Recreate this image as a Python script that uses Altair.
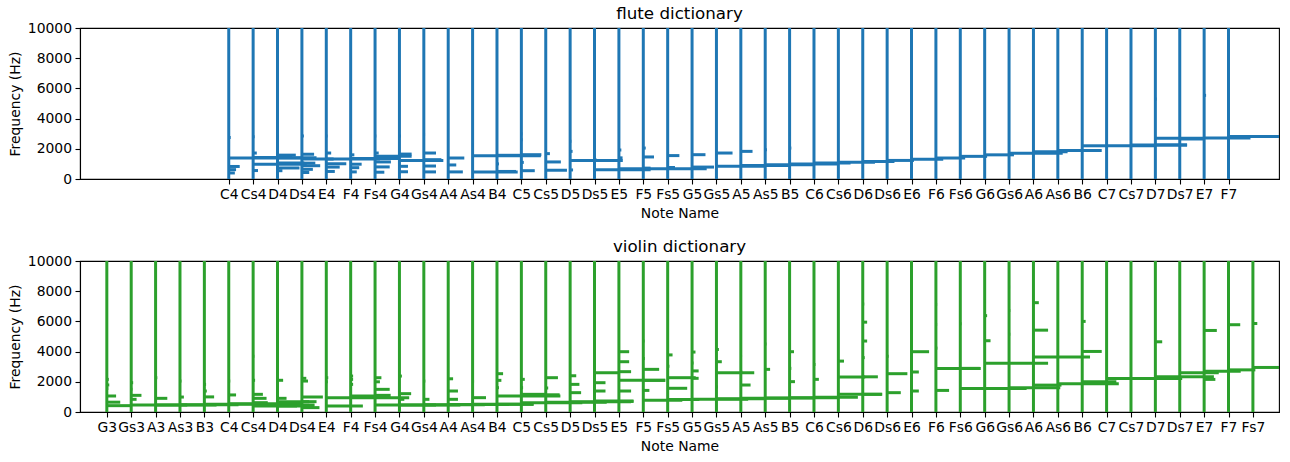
import altair as alt
import pandas as pd

# chromatic note axis (positions shared by both panels, G3 = 0)
violin_notes = ["G3", "Gs3", "A3", "As3", "B3",
                "C4", "Cs4", "D4", "Ds4", "E4", "F4", "Fs4", "G4", "Gs4", "A4", "As4", "B4",
                "C5", "Cs5", "D5", "Ds5", "E5", "F5", "Fs5", "G5", "Gs5", "A5", "As5", "B5",
                "C6", "Cs6", "D6", "Ds6", "E6", "F6", "Fs6", "G6", "Gs6", "A6", "As6", "B6",
                "C7", "Cs7", "D7", "Ds7", "E7", "F7", "Fs7"]
flute_notes = violin_notes[5:47]  # C4 .. F7

# flute spectral peaks: note, frequency (Hz), magnitude (in note widths)
flute_peak_notes = (["C4"] * 5 + ["Cs4"] * 5 + ["D4"] * 6 + ["Ds4"] * 7 + ["E4"] * 6 + ["F4"] * 6
                    + ["Fs4"] * 6 + ["G4"] * 6 + ["Gs4"] * 5 + ["A4"] * 3 + ["As4"] * 3 + ["B4"] * 3
                    + ["C5"] * 5 + ["Cs5"] * 3 + ["D5"] * 4 + ["Ds5"] * 2 + ["E5"] * 3 + ["F5"] * 3
                    + ["Fs5"] * 2 + ["G5"] * 2 + ["Gs5"] * 2 + ["A5"] * 2 + ["As5"] * 2 + ["B5"] * 3
                    + ["C6", "Cs6", "D6", "Ds6", "E6", "F6", "Fs6", "G6", "Gs6", "A6", "As6", "B6",
                       "C7", "Cs7"] + ["D7"] * 3 + ["Ds7"] + ["E7"] * 2 + ["F7"])
flute_peak_freqs = [2750, 1390, 830, 620, 400,
                    2800, 1720, 1420, 970, 560,
                    2800, 1580, 1400, 1060, 730, 550,
                    2850, 1640, 1320, 1050, 880, 640, 430,
                    2850, 1720, 1330, 1010, 790, 500,
                    2850, 1600, 1350, 980, 750, 470,
                    2850, 1720, 1500, 1130, 800, 450,
                    2850, 1650, 1560, 1230, 840, 480,
                    2950, 1720, 1280, 860, 470,
                    1390, 930, 470,
                    2270, 1540, 470,
                    1570, 1000, 500,
                    3000, 2600, 1610, 1100, 550,
                    1680, 1130, 580,
                    2500, 1830, 1230, 600,
                    1250, 620,
                    1920, 1400, 680,
                    2050, 1460, 720,
                    1550, 760,
                    1610, 790,
                    1720, 850,
                    1830, 900,
                    1940, 950,
                    3000, 2050, 1000,
                    1060, 1110, 1160, 1230, 1310, 1390, 1500, 1600, 1710, 1810, 1890, 2200,
                    2200, 2250,
                    5300, 2700, 2250,
                    2650,
                    5540, 2714,
                    2820]
flute_peak_mags = [0.08, 3.0, 0.45, 0.3, 0.25,
                   0.06, 0.15, 1.6, 2.2, 0.2,
                   0.06, 0.75, 1.6, 1.1, 0.9, 0.2,
                   0.08, 0.5, 1.3, 0.55, 0.75, 0.45, 0.3,
                   0.05, 0.2, 2.2, 0.82, 0.55, 0.35,
                   0.05, 0.15, 2.0, 0.45, 0.35, 0.25,
                   0.05, 0.15, 1.5, 0.65, 0.6, 0.38,
                   0.06, 0.5, 0.3, 1.8, 0.35, 0.35,
                   0.05, 0.5, 0.72, 0.5, 0.5,
                   0.66, 0.33, 0.6,
                   0.05, 2.8, 1.85,
                   1.0, 0.08, 0.78,
                   0.04, 0.05, 0.82, 0.1, 0.55,
                   0.17, 0.62, 0.87,
                   0.05, 0.1, 2.16, 0.12,
                   0.1, 2.3,
                   0.1, 0.15, 3.6,
                   0.1, 0.44, 0.3,
                   0.48, 0.3,
                   0.55, 0.9,
                   0.66, 2.0,
                   0.48, 2.0,
                   0.07, 2.0,
                   0.05, 0.07, 2.0,
                   1.5, 1.5, 1.3, 1.1, 1.3, 1.2, 1.1, 1.2, 2.2, 1.4, 1.8, 1.0,
                   2.0, 2.3,
                   0.05, 2.0, 1.3,
                   1.0,
                   0.08, 1.9,
                   2.3]

# violin spectral peaks: note, frequency (Hz), magnitude (in note widths)
violin_peak_notes = (["G3"] * 6 + ["Gs3"] * 5 + ["A3"] * 3 + ["As3"] * 3 + ["B3"] * 4 + ["C4"] * 3
                     + ["Cs4"] * 6 + ["D4"] * 4 + ["Ds4"] * 6 + ["E4"] * 4 + ["F4"] * 4 + ["Fs4"] * 5
                     + ["G4"] * 4 + ["Gs4"] * 3 + ["A4"] * 4 + ["As4"] * 3 + ["B4"] * 5 + ["C5"] * 4
                     + ["Cs5"] * 4 + ["D5"] * 4 + ["Ds5"] * 4 + ["E5"] * 6 + ["F5"] * 6 + ["Fs5"] * 5
                     + ["G5"] * 5 + ["Gs5"] * 5 + ["A5"] * 4 + ["As5"] * 3 + ["B5"] * 4 + ["C6"] * 3
                     + ["Cs6"] * 3 + ["D6"] * 6 + ["Ds6"] * 3 + ["E6"] * 4 + ["F6"] * 5 + ["Fs6"] * 3
                     + ["G6"] * 4 + ["Gs6"] * 4 + ["A6"] * 4 + ["As6"] + ["B6"] * 3 + ["C7"] + ["Cs7"]
                     + ["D7"] * 2 + ["Ds7"] + ["E7"] * 3 + ["F7"] * 2 + ["Fs7"] * 2)
violin_peak_freqs = [2160, 1790, 1550, 1060, 650, 420,
                     1940, 1500, 1103, 838, 463,
                     2270, 905, 470,
                     2050, 990, 480,
                     1830, 1390, 1000, 520,
                     2050, 1130, 540,
                     3700, 2100, 1170, 905, 618, 400,
                     2100, 905, 684, 400,
                     2230, 2050, 993, 684, 463, 290,
                     2270, 2000, 949, 397,
                     2380, 2160, 1830, 1060,
                     2270, 2000, 1500, 1103, 463,
                     2380, 1214, 840, 470,
                     2050, 840, 480,
                     2200, 1390, 840, 500,
                     2050, 949, 508,
                     2537, 2096, 1611, 1059, 510,
                     2162, 1611, 1170, 620,
                     2272, 1590, 1140, 640,
                     2400, 1830, 1280, 680,
                     2600, 1940, 1390, 728,
                     3993, 3330, 2670, 2096, 1390, 700,
                     4700, 3550, 2824, 2096, 1430, 772,
                     3780, 3030, 2272, 1570, 820,
                     3970, 3250, 2720, 2230, 840,
                     4140, 3330, 2600, 1650, 880,
                     3700, 2650, 1787, 910,
                     4500, 2824, 930,
                     3993, 2890, 2010, 950,
                     3150, 2162, 980,
                     3370, 2317, 1170,
                     7150, 5950, 4700, 3600, 2330, 1170,
                     3700, 2537, 1280,
                     5290, 3993, 2650, 1390,
                     7130, 5800, 4230, 2880, 1430,
                     5850, 2890, 1560,
                     7350, 6380, 4720, 3230,
                     8300, 6730, 5150, 1600,
                     7240, 5420, 3640, 1780,
                     1870,
                     6000, 4010, 2000,
                     2220,
                     2220,
                     4650, 2330,
                     2600,
                     5400, 2700, 2160,
                     5780, 2790,
                     5860, 2950]
violin_peak_mags = [0.08, 0.1, 0.06, 0.38, 0.55, 1.0,
                    0.08, 0.05, 0.42, 0.22, 2.3,
                    0.07, 0.48, 2.5,
                    0.06, 0.16, 2.4,
                    0.07, 0.1, 0.4, 2.5,
                    0.06, 0.3, 3.0,
                    0.05, 0.08, 0.4, 0.55, 0.6, 2.5,
                    0.23, 0.37, 1.3, 0.8,
                    0.18, 0.25, 0.86, 0.6, 0.52, 0.72,
                    0.08, 0.06, 3.4, 1.5,
                    0.1, 0.1, 0.1, 1.6,
                    0.26, 0.2, 0.6, 0.64, 2.5,
                    0.1, 0.48, 0.2, 2.5,
                    0.06, 0.23, 2.5,
                    0.2, 0.4, 0.4, 2.5,
                    0.06, 0.55, 2.5,
                    0.25, 0.18, 0.08, 2.6, 1.5,
                    0.14, 0.07, 1.0, 2.5,
                    0.5, 0.1, 0.57, 2.5,
                    0.25, 0.38, 0.45, 2.5,
                    1.0, 0.45, 0.45, 1.6,
                    0.42, 0.42, 0.5, 1.9, 0.5, 0.6,
                    0.05, 0.06, 0.65, 0.9, 0.25, 1.6,
                    0.2, 0.07, 1.15, 0.8, 1.3,
                    0.14, 0.06, 0.27, 0.27, 2.3,
                    0.1, 0.22, 1.55, 0.06, 2.0,
                    0.05, 0.06, 0.4, 2.0,
                    0.05, 0.2, 2.0,
                    0.18, 0.07, 0.22, 2.0,
                    0.06, 0.2, 1.8,
                    0.23, 1.1, 1.8,
                    0.06, 0.18, 0.18, 0.08, 0.62, 0.78,
                    0.06, 0.83, 0.56,
                    0.05, 0.72, 0.3, 0.3,
                    0.05, 0.05, 0.06, 1.84, 0.54,
                    0.05, 0.8, 2.72,
                    0.05, 0.1, 0.24, 2.6,
                    0.04, 0.05, 0.05, 2.1,
                    0.22, 0.6, 2.32, 1.15,
                    2.5,
                    0.14, 0.8, 1.4,
                    3.1,
                    1.7,
                    0.28, 2.4,
                    1.6,
                    0.52, 1.5, 0.46,
                    0.48, 1.1,
                    0.18, 1.2]

freq_ticks = [0, 2000, 4000, 6000, 8000, 10000]
panel_titles = ["flute dictionary", "violin dictionary"]
FONT = "DejaVu Sans"
X_DOMAIN = [-1.1, 48.07]
W, H = 1199, 151


def panel(notes, peak_notes, peak_freqs, peak_mags, color, title):
    pos = {n: violin_notes.index(n) for n in notes}
    lines = pd.DataFrame({"note": notes,
                          "pos": [pos[n] for n in notes],
                          "lo": [0] * len(notes),
                          "hi": [10000] * len(notes)})
    peaks = pd.DataFrame({"note": peak_notes,
                          "pos": [pos[n] for n in peak_notes],
                          "freq": peak_freqs,
                          "mag": peak_mags})
    peaks["end"] = peaks["pos"] + peaks["mag"]

    label_expr = "[" + ",".join("'%s'" % n for n in violin_notes) + "][round(datum.value)]"
    xscale = alt.Scale(domain=X_DOMAIN, nice=False, zero=False)
    yscale = alt.Scale(domain=[0, 10000], nice=False)
    xaxis = alt.Axis(values=[pos[n] for n in notes], labelExpr=label_expr, title="Note Name",
                     labelOverlap=False, labelFlush=False, titlePadding=6, labelPadding=3)
    yaxis = alt.Axis(values=freq_ticks, format="d", title="Frequency (Hz)", titlePadding=5,
                     labelPadding=3.5, labelOverlap=False, labelFlush=False)

    vlines = alt.Chart(lines).mark_rule(color=color, strokeWidth=3, clip=True).encode(
        x=alt.X("pos:Q", scale=xscale, axis=xaxis),
        y=alt.Y("lo:Q", scale=yscale, axis=yaxis),
        y2="hi:Q",
    )
    spikes = alt.Chart(peaks).mark_rule(color=color, strokeWidth=3, clip=True).encode(
        x=alt.X("pos:Q", scale=xscale, axis=xaxis),
        x2="end:Q",
        y=alt.Y("freq:Q", scale=yscale, axis=yaxis),
    )
    ttl = alt.Chart(pd.DataFrame({"t": [title]})).mark_text(
        font=FONT, fontSize=16.7, color="black", baseline="alphabetic", align="center"
    ).encode(x=alt.value(W / 2), y=alt.value(-9), text="t:N")
    return alt.layer(vlines, spikes, ttl).properties(width=W, height=H)


top = panel(flute_notes, flute_peak_notes, flute_peak_freqs, flute_peak_mags, "#1f77b4", panel_titles[0])
bottom = panel(violin_notes, violin_peak_notes, violin_peak_freqs, violin_peak_mags, "#2ca02c", panel_titles[1])

chart = alt.vconcat(top, bottom, spacing=16).properties(
    padding={"left": 7, "top": 5, "right": 5, "bottom": 5},
    background="white",
).configure_view(
    stroke="black", strokeWidth=1.1,
).configure_axis(
    grid=False, domainColor="black", domainWidth=1.1, tickColor="black", tickWidth=1.1, tickSize=5,
    labelColor="black", titleColor="black", labelFont=FONT, titleFont=FONT,
    labelFontSize=13.9, titleFontSize=13.9, titleFontWeight="normal", labelOverlap=False,
)

chart.save("out.html", embed_options={"renderer": "svg", "actions": False})
